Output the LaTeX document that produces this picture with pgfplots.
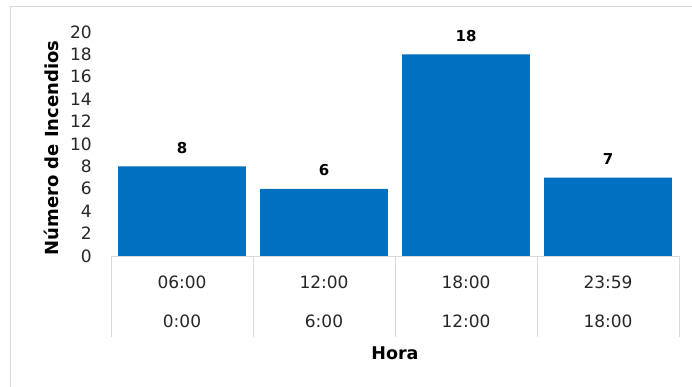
\documentclass[border=0pt]{standalone}
\usepackage{fontspec}
\setmainfont{DejaVu Sans}
\usepackage{pgfplots}
\pgfplotsset{compat=1.18}
\definecolor{barblue}{RGB}{0,112,192}
\definecolor{gridgray}{RGB}{217,217,217}
\begin{document}
\begin{tikzpicture}[x=1pt,y=1pt]
  \useasboundingbox (0,0) rectangle (692,387);
  \fill[white] (0,0) rectangle (692,387);
  % chart frame
  \draw[gridgray, line width=0.8pt] (10,0) -- (10,381) -- (692,381);
  \begin{axis}[
    at={(111pt,131pt)}, anchor=south west,
    scale only axis, width=568pt, height=224pt,
    ymin=0, ymax=20, ytick={0,2,...,20},
    xmin=-0.5, xmax=3.5,
    xtick={0,1,2,3},
    xticklabels={06:00,12:00,18:00,23:59},
    extra x ticks={0,1,2,3},
    extra x tick labels={0:00,6:00,12:00,18:00},
    extra x tick style={xticklabel style={yshift=-39pt}},
    axis x line*=bottom, axis y line*=left,
    axis line style={draw=none},
    major tick length=0pt,
    clip=false,
    /pgf/number format/assume math mode=true,
    tick label style={font=\fontsize{17}{20}\selectfont, text=black!85},
    xticklabel style={anchor=base, yshift=-33pt},
    yticklabel style={anchor=east, inner sep=0pt, xshift=-19pt},
    ylabel={Número de Incendios},
    ylabel style={at={(axis description cs:-0.104,0.482)}, anchor=center,
      font=\bfseries\fontsize{18}{20}\selectfont},
    xlabel={Hora},
    xlabel style={at={(axis description cs:0.5,-0.433)}, anchor=center,
      font=\bfseries\fontsize{17.5}{20}\selectfont},
    ybar, bar width=0.9,
    nodes near coords,
    nodes near coords style={anchor=base, yshift=13pt,
      font=\bfseries\fontsize{15}{18}\selectfont},
  ]
    \addplot[fill=barblue, draw=none] coordinates {(0,8) (1,6) (2,18) (3,7)};
    % category table below the bars
    \draw[gridgray, line width=0.8pt] (axis cs:-0.5,0) -- (axis cs:3.5,0);
    \draw[gridgray, line width=0.8pt] (axis cs:-0.5,0) -- (axis cs:-0.5,-7.23);
    \draw[gridgray, line width=0.8pt] (axis cs:0.5,0) -- (axis cs:0.5,-7.23);
    \draw[gridgray, line width=0.8pt] (axis cs:1.5,0) -- (axis cs:1.5,-7.23);
    \draw[gridgray, line width=0.8pt] (axis cs:2.5,0) -- (axis cs:2.5,-7.23);
    \draw[gridgray, line width=0.8pt] (axis cs:3.5,0) -- (axis cs:3.5,-7.23);
  \end{axis}
\end{tikzpicture}
\end{document}
